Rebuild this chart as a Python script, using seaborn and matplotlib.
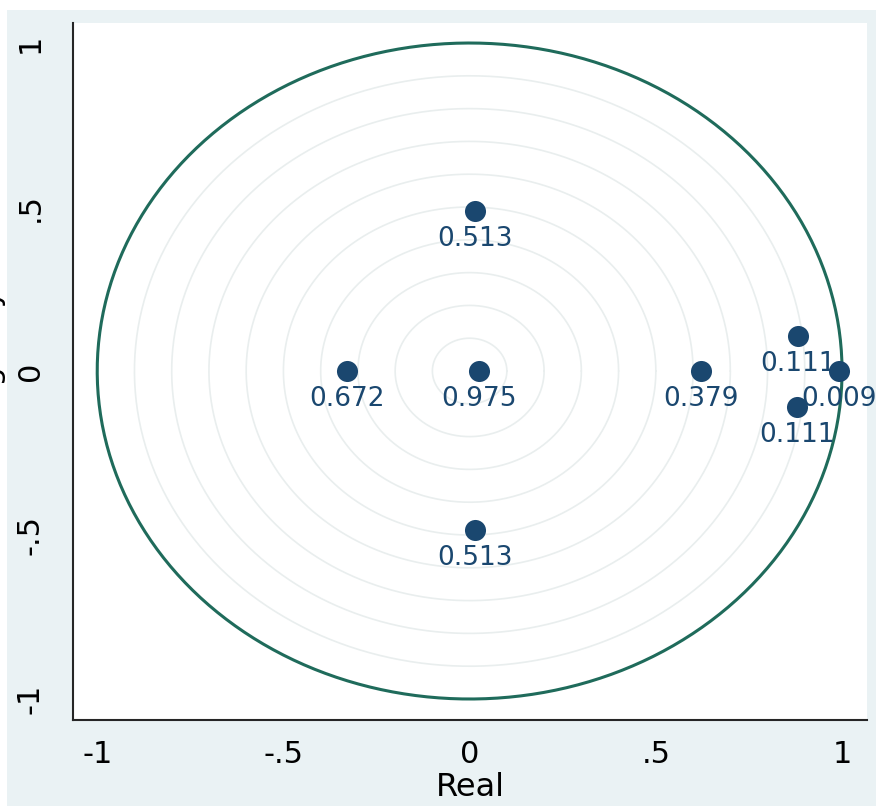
import numpy as np
import pandas as pd
import seaborn as sns
from matplotlib import pyplot
from matplotlib.patches import Rectangle

# eigenvalues
real_part = [0.015, -0.329, 0.026, 0.621, 0.882, 0.992, 0.879, 0.015]
imag_part = [0.488, 0.0, 0.0, 0.0, 0.107, 0.0, -0.110, -0.485]
labels = ["0.513", "0.672", "0.975", "0.379", "0.111", "0.009", "0.111", "0.513"]

x_ticks = [-1, -0.5, 0, 0.5, 1]
x_tick_labels = ["-1", "-.5", "0", ".5", "1"]
y_ticks = [-1, -0.5, 0, 0.5, 1]
y_tick_labels = ["-1", "-.5", "0", ".5", "1"]

navy = "#1a476f"
green = "#1f6b5b"
graph_bg = "#eaf2f4"

sns.set_style("white")
pyplot.rcParams["font.family"] = ["DejaVu Sans"]
pyplot.rcParams["text.color"] = "black"
pyplot.rcParams["axes.labelcolor"] = "black"
pyplot.rcParams["xtick.color"] = "black"
pyplot.rcParams["ytick.color"] = "black"

figure = pyplot.figure(figsize=(8.76, 8.06), dpi=100)
figure.patch.set_facecolor("white")
# stata-like graph region, white strip left on top
figure.add_artist(Rectangle((7 / 876, 0), 1, 1 - 10 / 806,
                            transform=figure.transFigure,
                            facecolor=graph_bg, edgecolor="none", zorder=0))

axis = figure.add_axes([73 / 876, 1 - 720 / 806, (867 - 73) / 876, (720 - 23) / 806])
axis.set_facecolor("white")

# grid circles and unit circle
theta = np.linspace(0, 2 * np.pi, 400)
for r in np.arange(0.1, 1.0, 0.1):
    axis.plot(r * np.cos(theta), r * np.sin(theta), color="#e9eeee", lw=1.2, zorder=1)
axis.plot(np.cos(theta), np.sin(theta), color=green, lw=2.2, zorder=2)

df = pd.DataFrame({"real": real_part, "imag": imag_part, "label": labels})
sns.scatterplot(data=df, x="real", y="imag", ax=axis, s=230, color=navy,
                edgecolor=navy, linewidth=0, zorder=3)
for _, row in df.iterrows():
    axis.annotate(row["label"], (row["real"], row["imag"]), xytext=(0, -11),
                  textcoords="offset points", ha="center", va="top",
                  fontsize=19, color=navy, zorder=4)

axis.set_xlim(-1.065, 1.067)
axis.set_ylim(-1.064, 1.061)
axis.set_xticks(x_ticks)
axis.set_xticklabels(x_tick_labels, fontsize=22)
axis.set_yticks(y_ticks)
axis.set_yticklabels(y_tick_labels, fontsize=22, rotation=90, va="center")
axis.tick_params(direction="out", length=9.5, width=1.2, color="black", pad=5)
axis.tick_params(axis="y", pad=11)
axis.set_xlabel("Real", fontsize=23, labelpad=2)
axis.set_ylabel("")
sns.despine(ax=axis)
axis.spines["left"].set_linewidth(1.5)
axis.spines["bottom"].set_linewidth(1.5)

# y label is cut off at the left edge in the reference
figure.text(3 / 876, 0.55, "Imaginary", rotation=90, ha="right", va="center",
            fontsize=22)

figure.savefig("out.png", dpi=100)
